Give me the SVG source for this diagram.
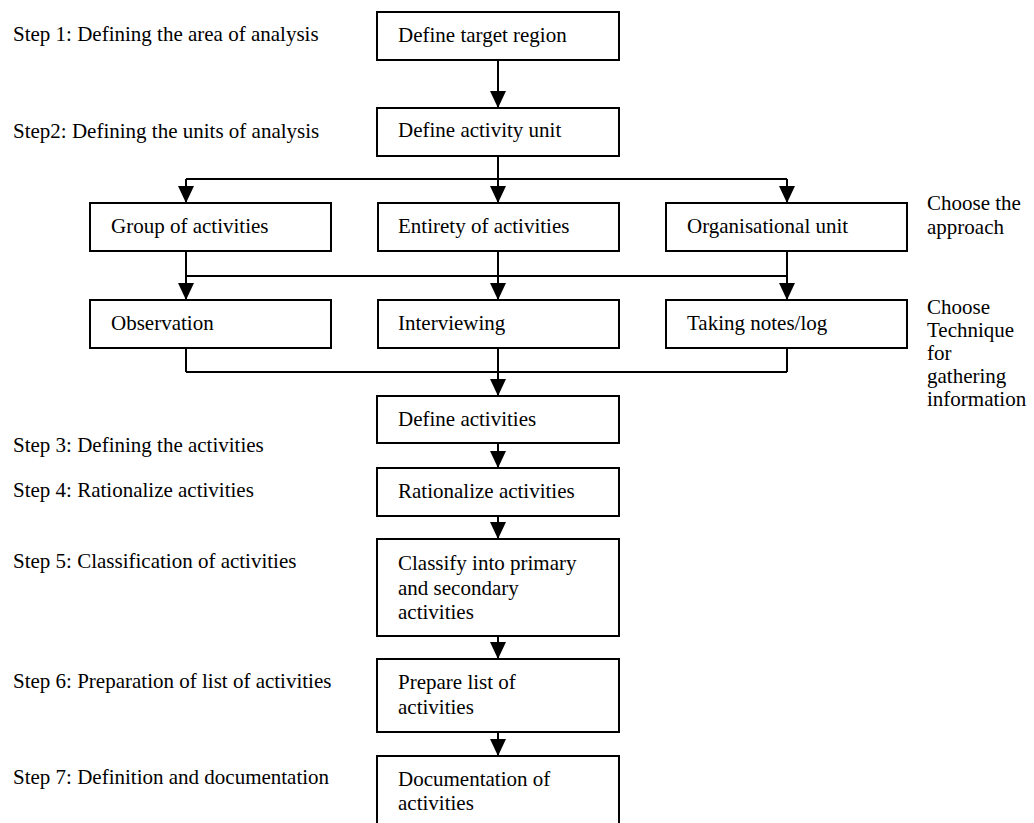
<svg xmlns="http://www.w3.org/2000/svg" width="1034" height="823" viewBox="0 0 1034 823">
<defs>
<style>
.box{fill:#fff;stroke:#000;stroke-width:2}
.ln{fill:none;stroke:#000;stroke-width:2}
</style>
<marker id="ah" markerWidth="17" markerHeight="16" refX="17" refY="8" orient="auto" markerUnits="userSpaceOnUse" viewBox="0 0 17 16">
<path d="M0,0 L17,8 L0,16 Z" fill="#000"/>
</marker>
</defs>
<rect width="1034" height="823" fill="#fff"/>
<g font-family="Liberation Serif, Times New Roman, serif" font-size="21" fill="#000">

<g id="labels">
<text x="13" y="41">Step 1: Defining the area of analysis</text>
<text x="13" y="138">Step2: Defining the units of analysis</text>
<text x="13" y="452">Step 3: Defining the activities</text>
<text x="13" y="497">Step 4: Rationalize activities</text>
<text x="13" y="568">Step 5: Classification of activities</text>
<text x="13" y="688">Step 6: Preparation of list of activities</text>
<text x="13" y="784">Step 7: Definition and documentation</text>
<text x="927" y="210">Choose the</text>
<text x="927" y="234">approach</text>
<text x="927" y="314">Choose</text>
<text x="927" y="337">Technique</text>
<text x="927" y="360">for</text>
<text x="927" y="383">gathering</text>
<text x="927" y="406">information</text>
</g>

<g id="connectors">
<path class="ln" d="M498,60 V108" marker-end="url(#ah)"/>
<path class="ln" d="M498,156 V179 M186,179 H787"/>
<path class="ln" d="M186,179 V203" marker-end="url(#ah)"/>
<path class="ln" d="M498,179 V203" marker-end="url(#ah)"/>
<path class="ln" d="M787,179 V203" marker-end="url(#ah)"/>
<path class="ln" d="M186,251 V276 M498,251 V276 M787,251 V276 M186,276 H787"/>
<path class="ln" d="M186,276 V300" marker-end="url(#ah)"/>
<path class="ln" d="M498,276 V300" marker-end="url(#ah)"/>
<path class="ln" d="M787,276 V300" marker-end="url(#ah)"/>
<path class="ln" d="M186,348 V372 M498,348 V372 M787,348 V372 M186,372 H787"/>
<path class="ln" d="M498,372 V396" marker-end="url(#ah)"/>
<path class="ln" d="M498,443 V468" marker-end="url(#ah)"/>
<path class="ln" d="M498,516 V539" marker-end="url(#ah)"/>
<path class="ln" d="M498,636 V659" marker-end="url(#ah)"/>
<path class="ln" d="M498,732 V756" marker-end="url(#ah)"/>
</g>

<g id="n-target"><rect class="box" x="377" y="12" width="242" height="48"/><text x="398" y="42">Define target region</text></g>
<g id="n-unit"><rect class="box" x="377" y="108" width="242" height="48"/><text x="398" y="137">Define activity unit</text></g>
<g id="n-group"><rect class="box" x="90" y="203" width="241" height="48"/><text x="111" y="233">Group of activities</text></g>
<g id="n-entirety"><rect class="box" x="378" y="203" width="241" height="48"/><text x="398" y="233">Entirety of activities</text></g>
<g id="n-org"><rect class="box" x="666" y="203" width="241" height="48"/><text x="687" y="233">Organisational unit</text></g>
<g id="n-obs"><rect class="box" x="90" y="300" width="241" height="48"/><text x="111" y="330">Observation</text></g>
<g id="n-int"><rect class="box" x="378" y="300" width="241" height="48"/><text x="398" y="330">Interviewing</text></g>
<g id="n-notes"><rect class="box" x="666" y="300" width="241" height="48"/><text x="687" y="330">Taking notes/log</text></g>
<g id="n-define"><rect class="box" x="377" y="396" width="242" height="47"/><text x="398" y="426">Define activities</text></g>
<g id="n-rational"><rect class="box" x="377" y="468" width="242" height="48"/><text x="398" y="498">Rationalize activities</text></g>
<g id="n-classify"><rect class="box" x="377" y="539" width="242" height="97"/><text x="398" y="570">Classify into primary</text><text x="398" y="595">and secondary</text><text x="398" y="619">activities</text></g>
<g id="n-prepare"><rect class="box" x="377" y="659" width="242" height="73"/><text x="398" y="689">Prepare list of</text><text x="398" y="714">activities</text></g>
<g id="n-doc"><rect class="box" x="377" y="756" width="242" height="80"/><text x="398" y="786">Documentation of</text><text x="398" y="810">activities</text></g>
</g>
</svg>
